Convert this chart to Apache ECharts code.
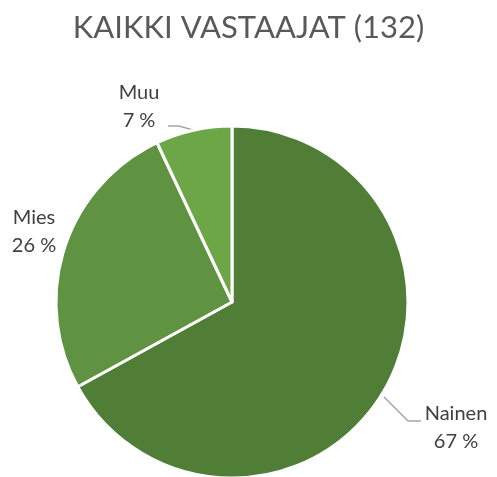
<!DOCTYPE html>
<html>
<head>
    <meta charset="utf-8">
    <title>ECharts</title>
    <script src="https://cdn.jsdelivr.net/npm/echarts@6/dist/echarts.min.js"></script>
</head>
<body style="margin:0">
    <div id="main" style="width:497px;height:477px;"></div>
    <script type="text/javascript">
        // data
        var categories = ['Nainen', 'Mies', 'Muu'];
        var values = [67, 26, 7];
        var colors = ['#507e36', '#5f9341', '#6ca646'];

        // label spots (centre of each label block) and leader lines
        var labelSpots = [[456, 428], [34, 232], [139, 107]];
        var leaderLines = [
            [[384, 397], [408, 421], [421, 421]],
            null,
            [[193, 130], [179, 126], [168, 126]]
        ];

        var myChart = echarts.init(document.getElementById('main'));

        var data = [];
        for (var i = 0; i < categories.length; i++) {
            data.push({
                name: categories[i],
                value: values[i],
                itemStyle: { color: colors[i] },
                labelLine: { show: i !== 1 }
            });
        }

        var option = {
            animation: false,
            title: {
                text: 'KAIKKI VASTAAJAT (132)',
                left: 'center',
                top: 7,
                textStyle: {
                    fontFamily: 'Lato',
                    fontSize: 31,
                    fontWeight: 'normal',
                    color: '#595959'
                }
            },
            series: [
                {
                    type: 'pie',
                    center: [232, 302],
                    radius: [0, 176],
                    startAngle: 90,
                    clockwise: true,
                    avoidLabelOverlap: false,
                    data: data,
                    itemStyle: {
                        borderColor: '#ffffff',
                        borderWidth: 3
                    },
                    label: {
                        show: true,
                        formatter: '{b}\n{d} %',
                        fontFamily: 'Lato',
                        fontSize: 20,
                        lineHeight: 28,
                        color: '#404040',
                        align: 'center',
                        overflow: 'none',
                        width: 90
                    },
                    labelLine: {
                        lineStyle: { color: '#a6a6a6', width: 1.5 }
                    },
                    labelLayout: function (params) {
                        var i = params.dataIndex;
                        var p = labelSpots[i];
                        var out = {
                            x: p[0],
                            y: p[1],
                            align: 'center',
                            verticalAlign: 'middle'
                        };
                        if (leaderLines[i]) {
                            out.labelLinePoints = leaderLines[i];
                        }
                        return out;
                    }
                }
            ]
        };

        myChart.setOption(option);
    </script>
</body>
</html>
